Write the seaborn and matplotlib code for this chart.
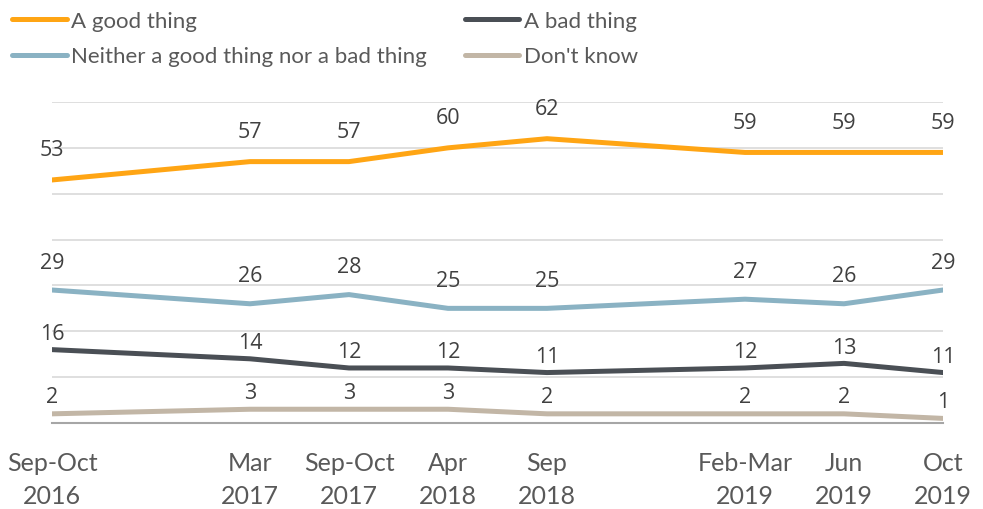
import matplotlib
matplotlib.use("Agg")
import matplotlib.pyplot as plt
import seaborn as sns
import pandas as pd
from matplotlib.lines import Line2D

periods = ["Sep-Oct\n2016", "Mar\n2017", "Sep-Oct\n2017", "Apr\n2018", "Sep\n2018",
           "Feb-Mar\n2019", "Jun\n2019", "Oct\n2019"]
x_pos = [0, 2, 3, 4, 5, 7, 8, 9]
good = [53, 57, 57, 60, 62, 59, 59, 59]
bad = [16, 14, 12, 12, 11, 12, 13, 11]
neither = [29, 26, 28, 25, 25, 27, 26, 29]
dont_know = [2, 3, 3, 3, 2, 2, 2, 1]

series_names = ["A good thing", "A bad thing", "Neither a good thing nor a bad thing", "Don't know"]
series_vals = [good, bad, neither, dont_know]
colors = ["#FFA514", "#4A4F55", "#8AB2C3", "#C2B6A6"]
label_offsets = [30, 16, 28, 17]  # px above point

rows = []
for name, vals in zip(series_names, series_vals):
    for p, x, v in zip(periods, x_pos, vals):
        rows.append({"series": name, "x": x, "period": p, "value": v})
df = pd.DataFrame(rows)

sns.set_style("white")
plt.rcParams["font.family"] = ["Lato", "DejaVu Sans"]

fig = plt.figure(figsize=(9.83, 5.10), dpi=100)
W, H = 983, 510
ax = fig.add_axes([52 / W, 1 - 424 / H, (943 - 52) / W, (424 - 103) / H])

sns.lineplot(data=df, x="x", y="value", hue="series", hue_order=series_names,
             palette=dict(zip(series_names, colors)), linewidth=3.6, ax=ax,
             legend=False, sort=True)

ax.set_xlim(0, 9)
ax.set_ylim(0, 70)
ax.set_yticks(range(0, 71, 10))
ax.yaxis.grid(True, color="#D9D9D9", linewidth=1.2)
ax.set_axisbelow(True)
for s in ["top", "right", "left"]:
    ax.spines[s].set_visible(False)
ax.spines["bottom"].set_color("#A6A6A6")
ax.spines["bottom"].set_linewidth(1.5)
ax.tick_params(axis="y", left=False, labelleft=False)
ax.set_xticks(x_pos)
ax.set_xticklabels(periods, fontsize=18, color="#595959", linespacing=1.5)
ax.tick_params(axis="x", bottom=False, pad=17)
ax.set_xlabel("")
ax.set_ylabel("")

for vals, off in zip(series_vals, label_offsets):
    for x, v in zip(x_pos, vals):
        ax.annotate(str(v), (x, v), xytext=(0, off * 0.72), textcoords="offset points",
                    ha="center", va="center", fontsize=15.5, color="#404040",
                    family=["Open Sans", "DejaVu Sans"])

handles = [Line2D([0], [0], color=c, lw=3.6) for c in colors]
order = [0, 2, 1, 3]
leg = fig.legend([handles[i] for i in order], [series_names[i] for i in order],
                 loc="upper left", bbox_to_anchor=(0.0, 1.0), ncol=2, frameon=False,
                 fontsize=16, handlelength=2.45, handletextpad=0.2, columnspacing=1.7,
                 labelspacing=0.68, borderaxespad=0.15)
for t in leg.get_texts():
    t.set_color("#595959")

fig.savefig("out.png", dpi=100)
